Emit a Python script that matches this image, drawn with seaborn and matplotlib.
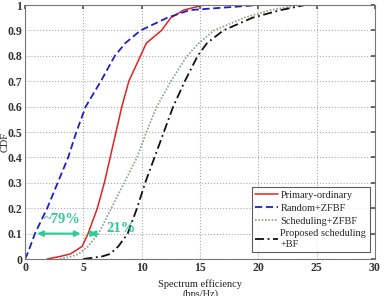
import pandas as pd
import matplotlib
matplotlib.use("Agg")
import matplotlib.pyplot as plt
import seaborn as sns

# CDF points
cdf_levels = [0, 0.01, 0.02, 0.05, 0.1, 0.2, 0.3, 0.4, 0.5, 0.6, 0.7, 0.8, 0.85, 0.9, 0.95, 0.98, 1.0]

primary_x = [1.9, 3.0, 3.9, 4.9, 5.4, 6.2, 6.8, 7.3, 7.8, 8.3, 8.9, 9.9, 10.4, 11.7, 12.5, 13.6, 15.3]
random_x = [0.0, 0.1, 0.2, 0.45, 0.85, 1.9, 2.8, 3.7, 4.4, 5.2, 6.5, 7.7, 8.6, 9.9, 12.2, 14.1, 20.0]
sched_x = [3.0, 4.0, 4.6, 5.4, 6.3, 7.4, 8.5, 9.6, 10.4, 11.3, 12.5, 13.9, 14.9, 16.2, 18.8, 21.0, 23.5]
proposed_x = [5.0, 6.6, 7.3, 8.0, 8.8, 9.6, 10.3, 11.1, 11.9, 12.7, 13.7, 14.8, 15.6, 17.0, 19.5, 21.9, 24.0]

labels = ["Primary-ordinary", "Random+ZFBF", "Scheduling+ZFBF", "Proposed scheduling\n+BF"]
x_ticks = [0, 5, 10, 15, 20, 25, 30]
y_ticks = [0, 0.1, 0.2, 0.3, 0.4, 0.5, 0.6, 0.7, 0.8, 0.9, 1.0]

sns.set_theme(style="white")
plt.rcParams['font.family'] = ['Liberation Serif', 'DejaVu Serif']

fig = plt.figure(figsize=(3.85, 2.96), dpi=100)
ax = fig.add_axes([0.065, 0.125, 0.909, 0.858])

styles = [
    (primary_x, "#e42222", "-", 1.1),
    (random_x, "#2020c8", (0, (4, 2)), 1.3),
    (sched_x, "#8aa08a", (0, (1, 1)), 1.2),
    (proposed_x, "#111111", (0, (5, 2, 1, 2)), 1.3),
]
for (xs, col, ls, lw), lab in zip(styles, labels):
    df = pd.DataFrame({"x": xs, "cdf": cdf_levels})
    sns.lineplot(data=df, x="x", y="cdf", sort=False, color=col, linestyle=ls,
                 linewidth=lw, label=lab, ax=ax)

ax.set_xlim(0, 30)
ax.set_ylim(0, 1)
ax.set_xticks(x_ticks)
ax.set_yticks(y_ticks)
ax.set_xticklabels([str(t) for t in x_ticks], fontweight="bold", fontsize=8.5, color="#333333")
ax.set_yticklabels(["0"] + [f"{t:.1f}" for t in y_ticks[1:-1]] + ["1"], fontweight="bold",
                   fontsize=8.5, color="#333333")
ax.tick_params(direction="in", length=3, top=True, right=True, pad=2, color="#555555")
ax.grid(True, linestyle=":", color="#aaaaaa", linewidth=0.8)
for s in ax.spines.values():
    s.set_color("#777777")
    s.set_linewidth(0.8)

ax.set_xlabel("Spectrum efficiency\n(bps/Hz)", fontsize=7.5, labelpad=4, color="#222222",
              linespacing=1.1)
ax.set_ylabel("")
ax.text(-0.058, 0.46, "CDF", transform=ax.transAxes, rotation=90, ha="center", va="center",
        fontsize=7.5, color="#222222")

# annotations
teal = "#2dcc96"
ax.annotate("", xy=(0.8, 0.1), xytext=(5.0, 0.1),
            arrowprops=dict(arrowstyle="<|-|>", color=teal, lw=1.5, mutation_scale=8))
ax.text(3.2, 0.128, "~79%", color=teal, fontsize=10.5, fontweight="bold", ha="center", va="bottom")
ax.annotate("", xy=(5.3, 0.1), xytext=(6.4, 0.1),
            arrowprops=dict(arrowstyle="<|-|>", color=teal, lw=1.5, mutation_scale=8))
ax.text(7.0, 0.12, "21%", color=teal, fontsize=10.5, fontweight="bold", ha="left", va="center")

leg = ax.legend(loc="lower right", fontsize=7.5, frameon=True, fancybox=False,
                borderpad=0.35, labelspacing=0.35, handlelength=2.2, handletextpad=0.2,
                bbox_to_anchor=(1.0, 0.006))
leg.get_frame().set_edgecolor("#333333")
leg.get_frame().set_linewidth(0.8)

fig.savefig("out.png", dpi=100)
